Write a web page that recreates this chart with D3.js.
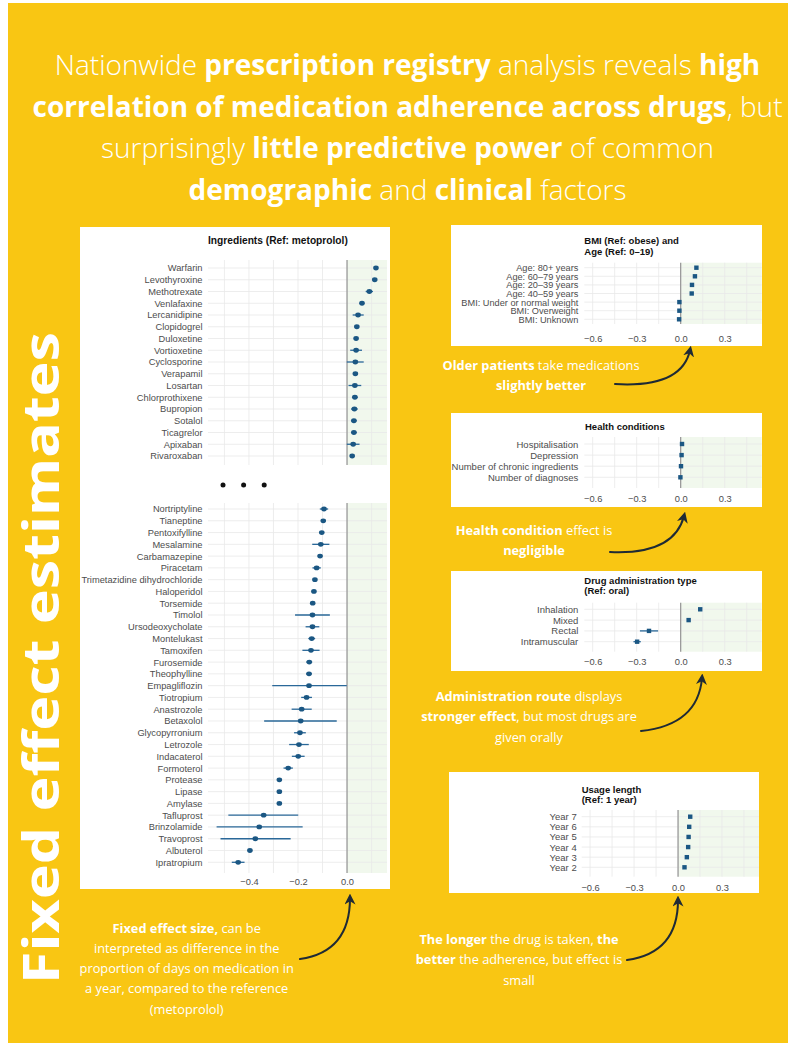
<!DOCTYPE html>
<html>
<head>
<meta charset="utf-8">
<script src="https://cdn.jsdelivr.net/npm/d3@7"></script>
<style>
  html, body { margin: 0; padding: 0; background: #ffffff; }
  svg { display: block; }
</style>
</head>
<body>
<svg id="chart" width="795" height="1049"></svg>
<script>
// ---- Ingredient estimates (upper block) ----
const topDrugs = ["Warfarin", "Levothyroxine", "Methotrexate", "Venlafaxine", "Lercanidipine",
  "Clopidogrel", "Duloxetine", "Vortioxetine", "Cyclosporine", "Verapamil", "Losartan",
  "Chlorprothixene", "Bupropion", "Sotalol", "Ticagrelor", "Apixaban", "Rivaroxaban"];
const topEstimate = [0.118, 0.113, 0.091, 0.061, 0.045, 0.040, 0.037, 0.037, 0.034, 0.034, 0.032,
  0.032, 0.030, 0.028, 0.028, 0.025, 0.021];
const topLower = [0.112, 0.107, 0.076, 0.052, 0.023, 0.034, 0.031, 0.013, -0.001, 0.024, 0.006,
  0.020, 0.016, 0.016, 0.016, -0.001, 0.013];
const topUpper = [0.124, 0.119, 0.106, 0.070, 0.068, 0.046, 0.043, 0.061, 0.068, 0.044, 0.058,
  0.044, 0.044, 0.040, 0.040, 0.051, 0.029];

// ---- Ingredient estimates (lower block) ----
const bottomDrugs = ["Nortriptyline", "Tianeptine", "Pentoxifylline", "Mesalamine", "Carbamazepine",
  "Piracetam", "Trimetazidine dihydrochloride", "Haloperidol", "Torsemide", "Timolol",
  "Ursodeoxycholate", "Montelukast", "Tamoxifen", "Furosemide", "Theophylline", "Empagliflozin",
  "Tiotropium", "Anastrozole", "Betaxolol", "Glycopyrronium", "Letrozole", "Indacaterol",
  "Formoterol", "Protease", "Lipase", "Amylase", "Tafluprost", "Brinzolamide", "Travoprost",
  "Albuterol", "Ipratropium"];
const bottomEstimate = [-0.094, -0.097, -0.103, -0.107, -0.110, -0.124, -0.131, -0.135, -0.140,
  -0.141, -0.141, -0.144, -0.147, -0.154, -0.155, -0.155, -0.165, -0.185, -0.189, -0.192, -0.196,
  -0.199, -0.240, -0.276, -0.276, -0.276, -0.340, -0.358, -0.374, -0.396, -0.444];
const bottomLower = [-0.111, -0.106, -0.112, -0.142, -0.119, -0.141, -0.137, -0.144, -0.146,
  -0.212, -0.169, -0.158, -0.182, -0.166, -0.167, -0.305, -0.187, -0.226, -0.338, -0.216, -0.236,
  -0.225, -0.259, -0.284, -0.284, -0.284, -0.484, -0.532, -0.516, -0.405, -0.470];
const bottomUpper = [-0.077, -0.088, -0.094, -0.072, -0.101, -0.107, -0.125, -0.126, -0.134,
  -0.070, -0.113, -0.130, -0.112, -0.142, -0.143, -0.001, -0.143, -0.144, -0.042, -0.168, -0.156,
  -0.173, -0.221, -0.268, -0.268, -0.268, -0.199, -0.181, -0.230, -0.387, -0.418];

// ---- BMI and age ----
const bmiAgeLabels = ["Age: 80+ years", "Age: 60–79 years", "Age: 20–39 years", "Age: 40–59 years",
  "BMI: Under or normal weight", "BMI: Overweight", "BMI: Unknown"];
const bmiAgeEstimate = [0.107, 0.097, 0.077, 0.075, -0.009, -0.009, -0.011];

// ---- Health conditions ----
const healthLabels = ["Hospitalisation", "Depression", "Number of chronic ingredients", "Number of diagnoses"];
const healthEstimate = [0.009, 0.006, 0.002, -0.002];

// ---- Administration route ----
const adminLabels = ["Inhalation", "Mixed", "Rectal", "Intramuscular"];
const adminEstimate = [0.133, 0.054, -0.216, -0.297];
const adminLower = [0.128, 0.049, -0.278, -0.322];
const adminUpper = [0.138, 0.059, -0.154, -0.272];

// ---- Usage length ----
const usageLabels = ["Year 7", "Year 6", "Year 5", "Year 4", "Year 3", "Year 2"];
const usageEstimate = [0.083, 0.076, 0.072, 0.069, 0.060, 0.044];

// ---- Axis ticks ----
const leftTicks = [-0.4, -0.2, 0.0];
const leftGrid = [-0.5, -0.4, -0.3, -0.2, -0.1, 0.0, 0.1];
const rightTicks = [-0.6, -0.3, 0.0, 0.3];
const rightGrid = [-0.6, -0.45, -0.3, -0.15, 0.0, 0.15, 0.3, 0.45];

// ---- Styling ----
const YELLOW = "#F9C613";
const GREEN = "#f1f8ed";
const GRID = "#e8e8e8";
const ZERO = "#8c8c8c";
const POINT = "#1b5783";
const BAR = "#2a6899";
const INK = "#1f2a35";
const CHART_FONT = "'Liberation Sans', Arial, Helvetica, sans-serif";
const INFO_FONT = "'Open Sans', 'Noto Sans', sans-serif";
const fmt = d3.format(".1f");

const svg = d3.select("#chart");

// page background
svg.append("rect").attr("width", 795).attr("height", 1049).attr("fill", "#ffffff");
svg.append("rect").attr("x", 8).attr("y", 3).attr("width", 780).attr("height", 1040).attr("fill", YELLOW);

// arrowhead marker
svg.append("defs").append("marker")
  .attr("id", "head").attr("viewBox", "0 0 10 10")
  .attr("refX", 6).attr("refY", 5)
  .attr("markerWidth", 5.5).attr("markerHeight", 5.5)
  .attr("orient", "auto")
  .append("path").attr("d", "M0,0 L10,5 L0,10 L3,5 Z").attr("fill", INK);

// ---- Headline ----
const headline = [
  [["Nationwide ", 0], ["prescription registry", 1], [" analysis reveals ", 0], ["high", 1]],
  [["correlation of medication adherence across drugs", 1], [", but", 0]],
  [["surprisingly ", 0], ["little predictive power", 1], [" of common", 0]],
  [["demographic", 1], [" and ", 0], ["clinical", 1], [" factors", 0]]
];
function richText(g, x, y, segments, size, lightWeight) {
  const t = g.append("text")
    .attr("x", x).attr("y", y)
    .attr("text-anchor", "middle")
    .attr("font-family", INFO_FONT)
    .attr("font-size", size)
    .attr("fill", "#ffffff");
  segments.forEach(([s, b]) => t.append("tspan").attr("font-weight", b ? 700 : lightWeight).text(s));
  return t;
}
const titleG = svg.append("g");
headline.forEach((line, i) => richText(titleG, 407.5, 75 + i * 41.5, line, 28, 300));

// vertical side heading
svg.append("text")
  .attr("transform", "translate(59,658) rotate(-90)")
  .attr("text-anchor", "middle")
  .attr("font-family", INFO_FONT)
  .attr("font-weight", 700)
  .attr("font-size", 50)
  .attr("textLength", 652)
  .attr("lengthAdjust", "spacingAndGlyphs")
  .attr("fill", "#ffffff")
  .text("Fixed effect estimates");

// ---- Forest plot helper ----
function forest(g, cfg) {
  const x = d3.scaleLinear().domain(cfg.domain).range([cfg.left, cfg.right]);
  const y = d3.scalePoint().domain(cfg.labels).range([cfg.rowFirst, cfg.rowLast]);

  g.append("rect")
    .attr("x", x(0)).attr("y", cfg.top)
    .attr("width", cfg.right - x(0)).attr("height", cfg.bottom - cfg.top)
    .attr("fill", GREEN);

  g.append("g").selectAll("line").data(cfg.grid).join("line")
    .attr("x1", d => x(d)).attr("x2", d => x(d))
    .attr("y1", cfg.top).attr("y2", cfg.bottom)
    .attr("stroke", GRID).attr("stroke-width", 0.8);

  g.append("g").selectAll("line").data(cfg.labels).join("line")
    .attr("x1", cfg.left).attr("x2", cfg.right)
    .attr("y1", d => y(d)).attr("y2", d => y(d))
    .attr("stroke", GRID).attr("stroke-width", 0.8);

  g.append("line")
    .attr("x1", x(0)).attr("x2", x(0))
    .attr("y1", cfg.top).attr("y2", cfg.bottom)
    .attr("stroke", ZERO).attr("stroke-width", 1.1);

  const rows = cfg.labels.map((name, i) => ({
    name, est: cfg.est[i],
    lo: cfg.lo ? cfg.lo[i] : null, hi: cfg.hi ? cfg.hi[i] : null
  }));

  if (cfg.lo) {
    g.append("g").selectAll("line").data(rows).join("line")
      .attr("x1", d => x(d.lo)).attr("x2", d => x(d.hi))
      .attr("y1", d => y(d.name)).attr("y2", d => y(d.name))
      .attr("stroke", BAR).attr("stroke-width", 1.3);
  }

  if (cfg.marker === "circle") {
    g.append("g").selectAll("ellipse").data(rows).join("ellipse")
      .attr("cx", d => x(d.est)).attr("cy", d => y(d.name))
      .attr("rx", 2.8).attr("ry", 2.4)
      .attr("fill", POINT);
  } else {
    g.append("g").selectAll("rect").data(rows).join("rect")
      .attr("x", d => x(d.est) - 2.2).attr("y", d => y(d.name) - 2.2)
      .attr("width", 4.4).attr("height", 4.4)
      .attr("fill", POINT);
  }

  // row labels
  const yAxis = g.append("g")
    .attr("transform", `translate(${cfg.left},0)`)
    .call(d3.axisLeft(y).tickSize(0).tickPadding(cfg.labelPad));
  yAxis.select(".domain").remove();
  yAxis.selectAll("text")
    .attr("font-family", CHART_FONT).attr("font-size", cfg.labelSize).attr("fill", "#4d4d4d");

  // x tick labels
  if (cfg.ticks) {
    const xAxis = g.append("g")
      .attr("transform", `translate(0,${cfg.tickY})`)
      .call(d3.axisBottom(x).tickValues(cfg.ticks).tickFormat(fmt).tickSize(0).tickPadding(0));
    xAxis.select(".domain").remove();
    xAxis.selectAll("text")
      .attr("font-family", CHART_FONT).attr("font-size", 9.3).attr("fill", "#4d4d4d");
  }

  // heading
  if (cfg.title) {
    const t = g.append("text")
      .attr("x", cfg.titleX).attr("y", cfg.titleY)
      .attr("font-family", CHART_FONT).attr("font-weight", 700)
      .attr("font-size", cfg.titleSize).attr("fill", "#111111");
    cfg.title.forEach((line, i) => t.append("tspan")
      .attr("x", cfg.titleX).attr("dy", i === 0 ? 0 : 10.2).text(line));
  }
  return x;
}

// ---- Left: ingredients ----
svg.append("rect").attr("x", 80).attr("y", 227).attr("width", 310).attr("height", 662).attr("fill", "#ffffff");
const leftDomain = [-0.567, 0.163];
const leftG = svg.append("g");
forest(leftG, {
  labels: topDrugs, est: topEstimate, lo: topLower, hi: topUpper,
  domain: leftDomain, left: 208, right: 387,
  top: 260, bottom: 465, rowFirst: 268, rowLast: 456,
  grid: leftGrid, marker: "circle", labelPad: 5.5, labelSize: 9.3,
  title: ["Ingredients (Ref: metoprolol)"], titleX: 208, titleY: 243.5, titleSize: 10.2
});
forest(leftG, {
  labels: bottomDrugs, est: bottomEstimate, lo: bottomLower, hi: bottomUpper,
  domain: leftDomain, left: 208, right: 387,
  top: 503, bottom: 873, rowFirst: 509, rowLast: 862.3,
  grid: leftGrid, marker: "circle", labelPad: 5.5, labelSize: 9.3,
  ticks: leftTicks, tickY: 878.8
});
// ellipsis between the two blocks
leftG.append("g").selectAll("circle").data([0, 1, 2]).join("circle")
  .attr("cx", d => 223 + d * 20.6).attr("cy", 485).attr("r", 2.5).attr("fill", "#111111");

// ---- Right panels ----
const rightDomain = [-0.657, 0.552];
const rightG = svg.append("g");

rightG.append("rect").attr("x", 451).attr("y", 225).attr("width", 311).attr("height", 121).attr("fill", "#ffffff");
forest(rightG.append("g"), {
  labels: bmiAgeLabels, est: bmiAgeEstimate,
  domain: rightDomain, left: 584.3, right: 761.7,
  top: 262.7, bottom: 324, rowFirst: 267.7, rowLast: 319.3,
  grid: rightGrid, marker: "square", labelPad: 6, labelSize: 9.2,
  ticks: rightTicks, tickY: 335,
  title: ["BMI (Ref: obese) and", "Age (Ref: 0–19)"], titleX: 584.3, titleY: 244.3, titleSize: 9.5
});

rightG.append("rect").attr("x", 451).attr("y", 413).attr("width", 311).attr("height", 94).attr("fill", "#ffffff");
forest(rightG.append("g"), {
  labels: healthLabels, est: healthEstimate,
  domain: rightDomain, left: 584.3, right: 761.7,
  top: 437, bottom: 488, rowFirst: 444, rowLast: 477.3,
  grid: rightGrid, marker: "square", labelPad: 6, labelSize: 9.5,
  ticks: rightTicks, tickY: 495,
  title: ["Health conditions"], titleX: 585, titleY: 429.5, titleSize: 9.5
});

rightG.append("rect").attr("x", 451).attr("y", 571).attr("width", 311).attr("height", 100).attr("fill", "#ffffff");
forest(rightG.append("g"), {
  labels: adminLabels, est: adminEstimate, lo: adminLower, hi: adminUpper,
  domain: rightDomain, left: 584.3, right: 761.7,
  top: 602.7, bottom: 651.7, rowFirst: 609.3, rowLast: 641.7,
  grid: rightGrid, marker: "square", labelPad: 6, labelSize: 9.5,
  ticks: rightTicks, tickY: 658.4,
  title: ["Drug administration type", "(Ref: oral)"], titleX: 584.3, titleY: 584, titleSize: 9.5
});

rightG.append("rect").attr("x", 449).attr("y", 772).attr("width", 310).attr("height", 121).attr("fill", "#ffffff");
forest(rightG.append("g"), {
  labels: usageLabels, est: usageEstimate,
  domain: rightDomain, left: 581.7, right: 759,
  top: 810, bottom: 876.7, rowFirst: 816.7, rowLast: 867.3,
  grid: rightGrid, marker: "square", labelPad: 5, labelSize: 9.5,
  ticks: rightTicks, tickY: 884,
  title: ["Usage length", "(Ref: 1 year)"], titleX: 581.7, titleY: 793, titleSize: 9.5
});

// ---- Callouts ----
const notes = [
  { x: 541, y: 370, lines: [
      [["Older patients", 1], [" take medications", 0]],
      [["slightly better", 1]]] },
  { x: 534, y: 535, lines: [
      [["Health condition", 1], [" effect is", 0]],
      [["negligible", 1]]] },
  { x: 529, y: 701, lines: [
      [["Administration route", 1], [" displays", 0]],
      [["stronger effect", 1], [", but most drugs are", 0]],
      [["given orally", 0]]] },
  { x: 519, y: 944, lines: [
      [["The longer", 1], [" the drug is taken, ", 0], ["the", 1]],
      [["better", 1], [" the adherence, but effect is", 0]],
      [["small", 0]]] },
  { x: 186.7, y: 932.5, lines: [
      [["Fixed effect size,", 1], [" can be", 0]],
      [["interpreted as difference in the", 0]],
      [["proportion of days on medication in", 0]],
      [["a year, compared to the reference", 0]],
      [["(metoprolol)", 0]]] }
];
const noteG = svg.append("g");
notes.forEach(n => n.lines.forEach((line, i) => richText(noteG, n.x, n.y + i * 20.3, line, 12.8, 400)));

const arrows = [
  "M615,384 Q682,388 690,350",
  "M610,552 Q674,555 684,516",
  "M641,731 Q698,725 702,678",
  "M627,960 Q678,953 678,900",
  "M300,959 Q350,952 350,898"
];
noteG.append("g").selectAll("path").data(arrows).join("path")
  .attr("d", d => d)
  .attr("fill", "none")
  .attr("stroke", INK)
  .attr("stroke-width", 2)
  .attr("stroke-linecap", "round")
  .attr("marker-end", "url(#head)");
</script>
</body>
</html>
